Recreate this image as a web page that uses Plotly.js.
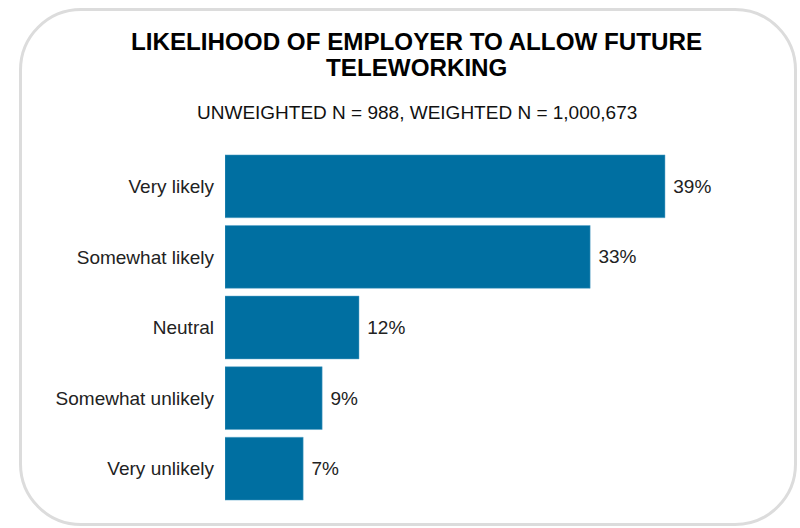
<!DOCTYPE html>
<html>
<head>
<meta charset="utf-8">
<script src="https://cdn.plot.ly/plotly-3.0.1.min.js"></script>
<style>
  html, body { margin: 0; padding: 0; background: #fff; }
  #wrap { position: relative; width: 800px; height: 528px; }
  #chart { width: 800px; height: 528px; }
  #frame { position: absolute; left: 19px; top: 8px; width: 772px; height: 512px;
           border: 3px solid #dcdcdc; border-radius: 62px; pointer-events: none; }
</style>
</head>
<body>
<div id="wrap">
  <div id="chart"></div>
  <div id="frame"></div>
</div>
<script>
const categories = ["Very likely", "Somewhat likely", "Neutral", "Somewhat unlikely", "Very unlikely"];
const values = [39.4, 32.7, 12.0, 8.7, 7.0];
const titleLines = ["LIKELIHOOD OF EMPLOYER TO ALLOW FUTURE", "TELEWORKING"];
const subtitleText = "UNWEIGHTED N = 988, WEIGHTED N = 1,000,673";

const FONT = "Liberation Sans, Arial, sans-serif";
const plotTop = 151, plotH = 353, plotL = 225, plotW = 536;
const py = (px) => 1 + (plotTop - px) / plotH;
const pxX = (px) => (px - plotL) / plotW;

const trace = {
  type: "bar",
  orientation: "h",
  x: values,
  y: categories,
  marker: { color: "#006fa1", line: { color: "#5aa5c9", width: 0.5 } },
  texttemplate: " %{x:.0f}%",
  textposition: "outside",
  cliponaxis: false,
  textfont: { family: FONT, size: 19, color: "#222" },
  hoverinfo: "none"
};

const annotations = [
  { text: "<b>" + titleLines[0] + "</b>", y: py(41.5), size: 24.2, color: "#000" },
  { text: "<b>" + titleLines[1] + "</b>", y: py(68), size: 24.2, color: "#000" },
  { text: subtitleText, y: py(112.5), size: 19, color: "#111" }
].map(a => ({
  text: a.text, xref: "paper", yref: "paper",
  x: pxX(416.5), y: a.y, xanchor: "center", yanchor: "middle",
  showarrow: false, font: { family: FONT, size: a.size, color: a.color }
}));

const layout = {
  width: 800, height: 528,
  margin: { l: plotL, r: 800 - plotL - plotW, t: plotTop, b: 528 - plotTop - plotH },
  paper_bgcolor: "#fff", plot_bgcolor: "#fff",
  showlegend: false,
  bargap: 0.11,
  font: { family: FONT, color: "#222" },
  annotations: annotations,
  xaxis: { range: [0, 48], visible: false, fixedrange: true },
  yaxis: {
    autorange: "reversed",
    showgrid: false, zeroline: false, showline: false,
    ticks: "", ticklabelstandoff: 10,
    tickfont: { family: FONT, size: 19, color: "#222" },
    fixedrange: true
  }
};

Plotly.newPlot("chart", [trace], layout, { displayModeBar: false, staticPlot: true });
</script>
</body>
</html>
